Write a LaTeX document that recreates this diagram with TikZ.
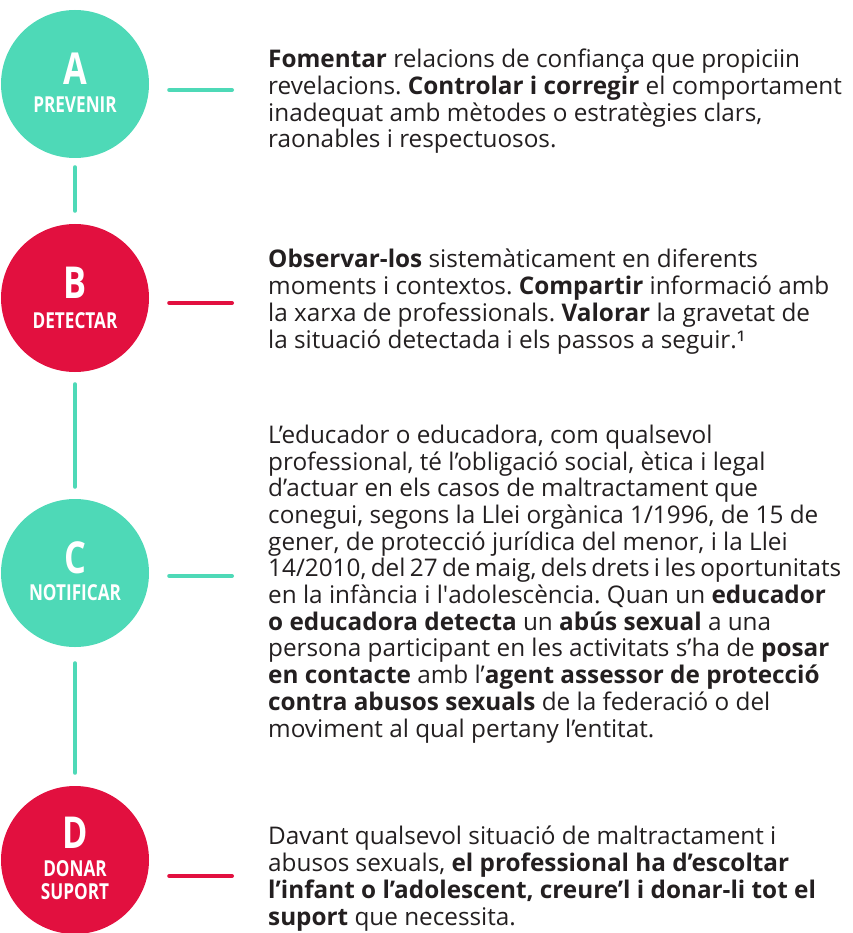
\documentclass[tikz,border=0pt]{standalone}
\usepackage{fontspec}
\setmainfont{Open Sans}
\newfontfamily\estretfont[FakeStretch=0.78]{Open Sans}
\usetikzlibrary{positioning}
\definecolor{verd}{HTML}{4ED9B7}
\definecolor{vermell}{HTML}{E2103F}
\definecolor{tinta}{HTML}{231F20}
\frenchspacing
\newcommand{\linjusta}[1]{{\spaceskip=0.18em\relax #1}}
\tikzset{
  fase/.style={circle,minimum size=148,inner sep=0pt},
  faseverd/.style={fase,fill=verd},
  fasevermell/.style={fase,fill=vermell},
  lletra/.style={anchor=base,inner sep=0pt,text=white,
                 font=\estretfont\bfseries\fontsize{44}{44}\selectfont},
  nomfase/.style={anchor=base,inner sep=0pt,text=white,
                  font=\estretfont\bfseries\fontsize{22}{22}\selectfont},
  % base = base de l'última línia
  cos/.style={anchor=base west,inner sep=0pt,align=left,text=tinta,
              font=\fontsize{24.3}{26.7}\selectfont},
  traç/.style={line width=4pt,line cap=round},
  tracverd/.style={traç,verd},
  tracvermell/.style={traç,vermell},
}

\begin{document}
\begin{tikzpicture}[x=1pt,y=-1pt]
  \useasboundingbox (0,0) rectangle (852,933);
  % fases
  \node[faseverd]    (prevenir)  at (75,84)  {};
  \node[fasevermell] (detectar)  at (75,298) {};
  \node[faseverd]    (notificar) at (75,573) {};
  \node[fasevermell] (suport)    at (75,860) {};
  \node[lletra]  (lA) at ([yshift=-1pt]prevenir.center)  {A};
  \node[nomfase] (nA) at ([yshift=-29pt]prevenir.center) {PREVENIR};
  \node[lletra]  (lB) at (detectar.center)               {B};
  \node[nomfase] (nB) at ([yshift=-30pt]detectar.center) {DETECTAR};
  \node[lletra]  (lC) at (notificar.center)               {C};
  \node[nomfase] (nC) at ([yshift=-27pt]notificar.center) {NOTIFICAR};
  \node[lletra]  (lD) at ([yshift=12pt]suport.center)  {D};
  \node[nomfase] (nD1) at ([yshift=-16pt]suport.center) {DONAR};
  \node[nomfase] (nD2) at ([yshift=-39pt]suport.center) {SUPORT};
  % eix vertical
  \draw[tracverd,shorten <=9pt,shorten >=13pt] (prevenir) -- (detectar);
  \draw[tracverd,shorten <=12pt,shorten >=12pt] (detectar) -- (notificar);
  \draw[tracverd,shorten <=16pt,shorten >=13pt] (notificar) -- (suport);
  % textos
  \node[cos] (tA) at (268,148)
    {\textbf{Fomentar} relacions de confiança que propiciin\\
     revelacions. \textbf{Controlar i corregir} el comportament\\
     inadequat amb mètodes o estratègies clars,\\
     raonables i respectuosos.};
  \node[cos] (tB) at (268,348)
    {\textbf{Observar-los} sistemàticament en diferents\\
     moments i contextos. \textbf{Compartir} informació amb\\
     la xarxa de professionals. \textbf{Valorar} la gravetat de\\
     la situació detectada i els passos a seguir.¹};
  \node[cos] (tC) at (268,737)
    {L’educador o educadora, com qualsevol\\
     professional, té l’obligació social, ètica i legal\\
     d’actuar en els casos de maltractament que\\
     conegui, segons la Llei orgànica 1/1996, de 15 de\\
     gener, de protecció jurídica del menor, i la Llei\\
     \linjusta{14/2010, del 27 de maig, dels drets i les oportunitats}\\
     en la infància i l\textquotesingle adolescència. Quan un \textbf{educador}\\
     \textbf{o educadora detecta} un \textbf{abús sexual} a una\\
     persona participant en les activitats s’ha de \textbf{posar}\\
     \textbf{en contacte} amb l’\textbf{agent assessor de protecció}\\
     \textbf{contra abusos sexuals} de la federació o del\\
     moviment al qual pertany l’entitat.};
  \node[cos] (tD) at (268,925)
    {Davant qualsevol situació de maltractament i\\
     abusos sexuals, \textbf{el professional ha d’escoltar}\\
     \textbf{l’infant o l’adolescent, creure’l i donar-li tot el}\\
     \textbf{suport} que necessita.};
  % enllaços cap als textos
  \coordinate (hA) at (232,90);
  \coordinate (hB) at (232,303);
  \coordinate (hC) at (232,576);
  \coordinate (hD) at (232,876);
  \draw[tracverd,shorten <=20pt]    (prevenir.east |- hA)  -- (hA);
  \draw[tracvermell,shorten <=20pt] (detectar.east |- hB)  -- (hB);
  \draw[tracverd,shorten <=20pt]    (notificar.east |- hC) -- (hC);
  \draw[tracvermell,shorten <=20pt] (suport.east |- hD)    -- (hD);
\end{tikzpicture}
\end{document}
